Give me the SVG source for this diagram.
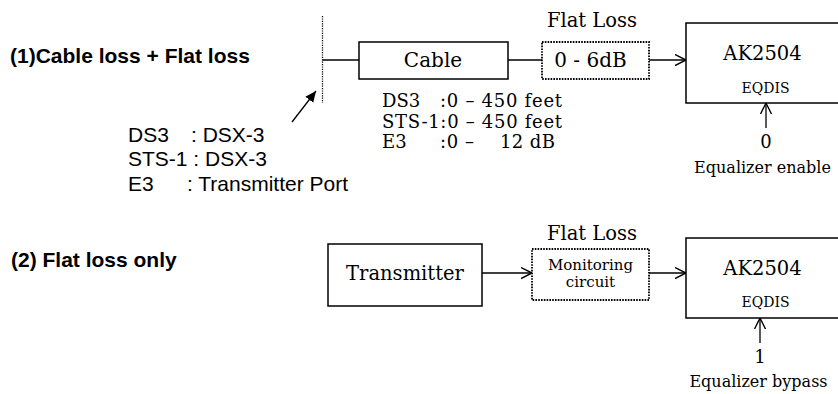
<svg xmlns="http://www.w3.org/2000/svg" width="838" height="394" viewBox="0 0 838 394">
<style>
.box{fill:#fff;stroke:#000;stroke-width:1.5}
.dot{fill:#fff;stroke:#000;stroke-width:1.8;stroke-dasharray:1.6 1.2}
.ln{fill:none;stroke:#000;stroke-width:1.3}
.sf{font-family:"DejaVu Serif","Liberation Serif",serif;fill:#000}
.ss{font-family:"Liberation Sans",Arial,sans-serif;fill:#000}
.b{font-weight:bold;font-size:21px}
.m{text-anchor:middle}
.spec{font-size:18px}
</style>
<defs>
<marker id="open" markerUnits="userSpaceOnUse" markerWidth="14" markerHeight="14" refX="11" refY="6" orient="auto">
<path d="M0,0.5 L11,6 L0,11.5" fill="none" stroke="#000" stroke-width="1.4"/>
</marker>
<marker id="fill" markerUnits="userSpaceOnUse" markerWidth="14" markerHeight="14" refX="11" refY="5" orient="auto">
<path d="M0,0 L11,5 L0,10 Z" fill="#000"/>
</marker>
</defs>
<rect width="838" height="394" fill="#fff"/>

<text class="ss b" x="10" y="63">(1)Cable loss + Flat loss</text>
<text class="ss b" x="11" y="267">(2) Flat loss only</text>

<g id="connectors">
<line class="ln" x1="322.5" y1="16" x2="322.5" y2="103" stroke-dasharray="1.2 1.2"/>
<line class="ln" x1="322.5" y1="60" x2="359" y2="60"/>
<line class="ln" x1="508" y1="60" x2="542" y2="60"/>
<line class="ln" x1="649" y1="60" x2="686" y2="60" marker-end="url(#open)"/>
<line class="ln" x1="292" y1="122" x2="316" y2="91" marker-end="url(#fill)"/>
<line class="ln" x1="766" y1="128" x2="766" y2="103" marker-end="url(#open)"/>
<line class="ln" x1="482" y1="273" x2="532" y2="273" marker-end="url(#open)"/>
<line class="ln" x1="649" y1="273" x2="686" y2="273" marker-end="url(#open)"/>
<line class="ln" x1="760" y1="343" x2="760" y2="318" marker-end="url(#open)"/>
</g>

<g id="source-note">
<text class="ss" font-size="21" y="142"><tspan x="128">DS3</tspan><tspan x="191">: DSX-3</tspan></text>
<text class="ss" font-size="21" x="128" y="166">STS-1 : DSX-3</text>
<text class="ss" font-size="21" y="191"><tspan x="128">E3</tspan><tspan x="187">: Transmitter Port</tspan></text>
</g>

<g id="cable">
<rect class="box" x="359" y="42" width="149" height="37"/>
<text class="sf m" font-size="20" x="433" y="67">Cable</text>
</g>
<g id="cable-spec">
<text class="sf spec" y="107"><tspan x="382">DS3</tspan><tspan x="440" textLength="122" lengthAdjust="spacing">:0 – 450 feet</tspan></text>
<text class="sf spec" x="382" y="127.5" textLength="180" lengthAdjust="spacing">STS-1:0 – 450 feet</text>
<text class="sf spec" y="148"><tspan x="382">E3</tspan><tspan x="440" textLength="34" lengthAdjust="spacing">:0 –</tspan><tspan x="500" textLength="55" lengthAdjust="spacing">12 dB</tspan></text>
</g>

<g id="flatloss1">
<text class="sf m" font-size="19.5" x="592" y="27">Flat Loss</text>
<rect class="dot" x="542" y="42" width="107" height="37"/>
<text class="sf m" font-size="20" x="590.5" y="67">0 - 6dB</text>
</g>

<g id="ak2504-1">
<rect class="box" x="686" y="23" width="160" height="80"/>
<text class="sf m" font-size="19.5" x="762.5" y="60">AK2504</text>
<text class="sf m" font-size="14" x="765.5" y="93">EQDIS</text>
</g>
<g id="enable">
<text class="sf m" font-size="18" x="766" y="148">0</text>
<text class="sf m" font-size="16" x="762.5" y="173">Equalizer enable</text>
</g>

<g id="transmitter">
<rect class="box" x="328" y="244" width="154" height="62"/>
<text class="sf m" font-size="19.5" x="405" y="280">Transmitter</text>
</g>

<g id="flatloss2">
<text class="sf m" font-size="19.5" x="592" y="240">Flat Loss</text>
<rect class="dot" x="532" y="249" width="117" height="51"/>
<text class="sf m" font-size="15" x="590.5" y="270">Monitoring</text>
<text class="sf m" font-size="15" x="590.5" y="287">circuit</text>
</g>

<g id="ak2504-2">
<rect class="box" x="686" y="238" width="160" height="80"/>
<text class="sf m" font-size="19.5" x="762.5" y="275">AK2504</text>
<text class="sf m" font-size="14" x="765.5" y="307">EQDIS</text>
</g>
<g id="bypass">
<text class="sf m" font-size="18" x="760" y="363">1</text>
<text class="sf m" font-size="16" x="758.5" y="387">Equalizer bypass</text>
</g>
</svg>
